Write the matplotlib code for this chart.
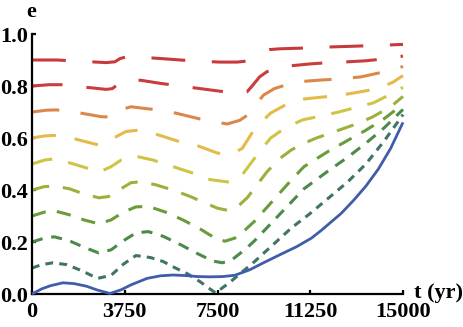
import numpy as np
import matplotlib
matplotlib.use('Agg')
import matplotlib.pyplot as plt

plt.rcParams['font.family'] = ['Liberation Serif', 'DejaVu Serif']
plt.rcParams['font.weight'] = 'bold'
plt.rcParams['lines.scale_dashes'] = False

# e0 = 0.0 (solid)
t0 = [0, 400, 750, 1250, 1700, 2200, 2650, 3150, 3600, 4000, 4650, 5200, 5700, 6200, 6700, 7200, 7700, 8200,
      8800, 9400, 10000, 10700, 11300, 11700, 12500, 13000, 13500, 14000, 14500, 15000]
e0 = [0, 0.02, 0.032, 0.043, 0.04, 0.03, 0.015, 0.002, 0.016, 0.035, 0.06, 0.07, 0.073, 0.071, 0.067, 0.066,
      0.067, 0.072, 0.093, 0.122, 0.15, 0.182, 0.215, 0.245, 0.31, 0.36, 0.415, 0.48, 0.56, 0.66]

t1 = [0, 400, 850, 1400, 2000, 2650, 3200, 3700, 4200, 4800, 5300, 5800, 6300, 6800, 7420, 8000, 8500, 9000,
      9750, 10500, 11250, 12000, 12750, 13500, 14250, 15000]
e1 = [0.1, 0.113, 0.12, 0.113, 0.09, 0.06, 0.072, 0.115, 0.148, 0.14, 0.125, 0.1, 0.077, 0.047, 0.004, 0.045,
      0.085, 0.125, 0.19, 0.255, 0.31, 0.37, 0.43, 0.5, 0.59, 0.69]

t2 = [0, 500, 900, 1500, 2100, 2700, 3200, 3700, 4200, 4700, 5300, 6000, 6700, 7300, 7700, 8100, 8600, 9000,
      9750, 10500, 11000, 11500, 12000, 12750, 13500, 14250, 15000]
e2 = [0.2, 0.215, 0.22, 0.205, 0.18, 0.158, 0.17, 0.205, 0.235, 0.24, 0.222, 0.19, 0.155, 0.127, 0.12, 0.133,
      0.17, 0.205, 0.28, 0.355, 0.405, 0.44, 0.475, 0.525, 0.58, 0.64, 0.71]

t3 = [0, 500, 900, 1500, 2100, 2700, 3200, 3700, 4200, 4700, 5400, 6100, 6800, 7400, 7800, 8200, 8600, 9000,
      9750, 10500, 11000, 11500, 12000, 12750, 13500, 14250, 15000]
e3 = [0.3, 0.315, 0.32, 0.305, 0.285, 0.27, 0.285, 0.315, 0.335, 0.337, 0.315, 0.285, 0.25, 0.215, 0.203, 0.215,
      0.245, 0.28, 0.36, 0.44, 0.49, 0.52, 0.55, 0.59, 0.63, 0.675, 0.73]

t4 = [0, 500, 900, 1500, 2100, 2700, 3100, 3600, 4000, 4400, 5000, 5700, 6400, 7000, 7500, 7900, 8300, 8700,
      9100, 9500, 10000, 10500, 11000, 11500, 12250, 13000, 13750, 14500, 15000]
e4 = [0.4, 0.413, 0.415, 0.405, 0.385, 0.37, 0.375, 0.405, 0.428, 0.432, 0.42, 0.4, 0.375, 0.35, 0.33, 0.322,
      0.335, 0.37, 0.42, 0.47, 0.52, 0.555, 0.58, 0.6, 0.625, 0.65, 0.68, 0.72, 0.76]

t5 = [0, 500, 900, 1500, 2200, 2750, 3200, 3600, 4200, 4900, 5700, 6500, 7200, 8000, 8550, 9100, 9650, 10250,
      10950, 11700, 12400, 13200, 13800, 14600, 15000]
e5 = [0.5, 0.515, 0.52, 0.505, 0.485, 0.47, 0.49, 0.515, 0.53, 0.515, 0.49, 0.465, 0.44, 0.43, 0.465, 0.535,
      0.6, 0.64, 0.67, 0.685, 0.7, 0.72, 0.735, 0.773, 0.795]

t6 = [0, 500, 900, 1600, 2200, 2700, 3300, 3800, 4300, 5000, 5900, 6700, 7500, 8000, 8500, 9000, 9650, 10300,
      11000, 11700, 12300, 13000, 14000, 14600, 15000]
e6 = [0.6, 0.608, 0.61, 0.6, 0.585, 0.573, 0.6, 0.625, 0.63, 0.615, 0.588, 0.57, 0.542, 0.535, 0.56, 0.635,
      0.696, 0.73, 0.75, 0.757, 0.762, 0.773, 0.79, 0.815, 0.84]

t7 = [0, 600, 1000, 1900, 2800, 3300, 3500, 3700, 4000, 4900, 5800, 6800, 7500, 7900, 8400, 8840, 9100, 9360,
      9800, 10400, 11000, 11700, 12400, 13300, 14400, 15000]
e7 = [0.7, 0.707, 0.708, 0.697, 0.682, 0.68, 0.69, 0.712, 0.72, 0.71, 0.696, 0.673, 0.66, 0.654, 0.668, 0.696,
      0.735, 0.765, 0.79, 0.808, 0.818, 0.823, 0.827, 0.835, 0.858, 0.875]

t8 = [0, 700, 1200, 2200, 3000, 3250, 3450, 3650, 4000, 4400, 5200, 6000, 6800, 7600, 8300, 8700, 8900, 9200,
      9500, 9800, 10500, 11250, 12000, 12750, 13500, 14300, 15000]
e8 = [0.8, 0.805, 0.805, 0.795, 0.787, 0.79, 0.805, 0.817, 0.822, 0.822, 0.81, 0.8, 0.79, 0.78, 0.772, 0.778,
      0.8, 0.835, 0.855, 0.868, 0.878, 0.885, 0.89, 0.893, 0.897, 0.905, 0.915]

t9 = [0, 1000, 2000, 3000, 3350, 3550, 3800, 4500, 5300, 6000, 6800, 7600, 8300, 8700, 9000, 9300, 9600, 10000,
      11000, 12000, 13000, 14000, 15000]
e9 = [0.9, 0.9, 0.895, 0.89, 0.893, 0.905, 0.912, 0.91, 0.905, 0.9, 0.895, 0.892, 0.892, 0.896, 0.91, 0.93,
      0.94, 0.943, 0.946, 0.95, 0.953, 0.956, 0.96]

colors = ['#3F5DA8', '#3F7467', '#4C8A4A', '#6A9C3C', '#9DB03C', '#CFC445', '#E4BB4A', '#DC874A', '#C93D3B',
          '#C63A3C']

xticks = [0, 3750, 7500, 11250, 15000]
xticklabels = ['0', '3750', '7500', '11250', '15000']
yticks = [0.0, 0.2, 0.4, 0.6, 0.8, 1.0]
yticklabels = ['0.0', '0.2', '0.4', '0.6', '0.8', '1.0']

fig = plt.figure(figsize=(4.63, 3.27), dpi=100)
ax = fig.add_axes([32/463, 33/327, (403-32)/463, (294-34)/327])

series = [(t0, e0), (t1, e1), (t2, e2), (t3, e3), (t4, e4), (t5, e5), (t6, e6), (t7, e7), (t8, e8), (t9, e9)]
for k in range(len(series) - 1, -1, -1):
    t, e = series[k]
    if k == 0:
        ax.plot(t, e, color=colors[k], lw=2.0, solid_capstyle='butt', clip_on=False, zorder=3)
    else:
        per = (14 + (k - 1) * 5.8) * 0.72
        ax.plot(t, e, color=colors[k], lw=2.2, dashes=(per * 0.56, per * 0.44),
                dash_capstyle='butt', clip_on=False, zorder=2)

ax.set_xlim(0, 15000)
ax.set_ylim(0, 1.0)
ax.set_xticks(xticks)
ax.set_xticklabels(xticklabels)
ax.set_yticks(yticks)
ax.set_yticklabels(yticklabels)
for s in ['top', 'right']:
    ax.spines[s].set_visible(False)
for s in ['left', 'bottom']:
    ax.spines[s].set_linewidth(1.6)
ax.tick_params(direction='in', length=3, width=1.6, labelsize=16)
ax.tick_params(axis='x', pad=6)
ax.tick_params(axis='y', pad=3)
for lab in ax.get_xticklabels() + ax.get_yticklabels():
    lab.set_fontweight('bold')

fig.text(31/463, 1 - 12/327, 'e', ha='center', va='center', fontsize=16, fontweight='bold')
fig.text(438/463, 1 - 293/327, 't (yr)', ha='center', va='center', fontsize=16, fontweight='bold')

fig.savefig('out.png', dpi=100)
